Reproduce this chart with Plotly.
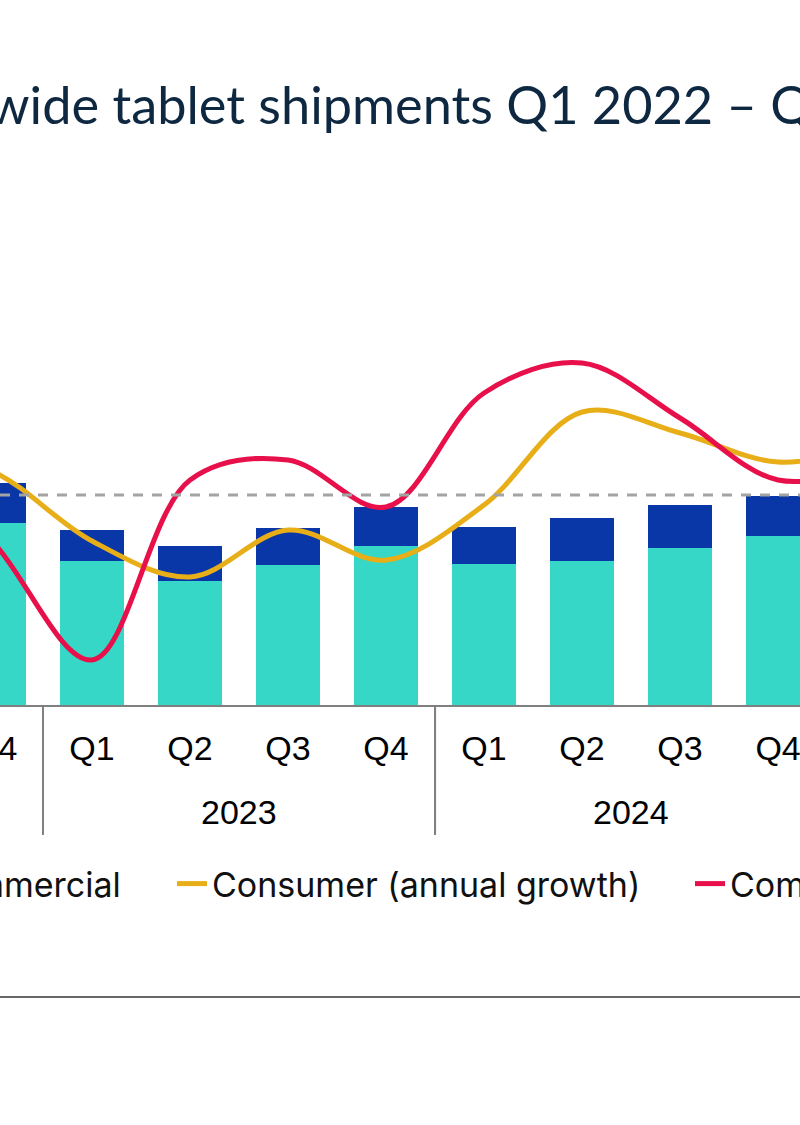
import plotly.graph_objects as go

# ---- data ----
years = ["2022"] * 4 + ["2023"] * 4 + ["2024"] * 4 + ["2025"]
quarters = ["Q1", "Q2", "Q3", "Q4"] * 3 + ["Q1"]
year_labels = ["2022", "2023", "2024", "2025"]

consumer = [26.4, 24.8, 25.1, 30.3, 24.0, 20.7, 23.3, 26.5, 23.5, 24.0, 26.2, 28.2, 25.9]
commercial = [7.8, 5.7, 5.8, 6.7, 5.2, 5.8, 6.2, 6.5, 6.2, 7.2, 7.1, 6.6, 6.6]
consumer_growth = [-6.0, -3.0, 10.0, 4.6, -9.2, -16.4, -7.0, -13.0, -2.0, 16.6, 12.4, 6.6, 10.0]
commercial_growth = [12.0, 8.0, 10.0, -9.6, -33.0, 3.0, 7.0, -2.4, 20.4, 26.4, 15.4, 3.0, 6.0]

title_text = "Worldwide tablet shipments Q1 2022 – Q1 2025"

# ---- styles ----
TEAL = "#37D7C8"
BLUE = "#0A37A8"
GOLD = "#E8AE18"
RED = "#E8104A"
TICK_FONT = "Liberation Sans, Arial, sans-serif"
LEG_FONT = "Inter, Lato, sans-serif"
X_RANGE = [3.061, 11.224]

# category keys built from the year / quarter arrays
cats = [f"{q} {y}" for y, q in zip(years, quarters)]

fig = go.Figure()
fig.add_trace(go.Bar(x=cats, y=consumer, name="Consumer", marker_color=TEAL,
                     marker_line_width=0, legend="legend"))
fig.add_trace(go.Bar(x=cats, y=commercial, name="Commercial", marker_color=BLUE,
                     marker_line_width=0, legend="legend"))
fig.add_trace(go.Scatter(x=cats, y=consumer_growth, name="Consumer (annual growth)",
                         mode="lines", line=dict(color=GOLD, width=5, shape="spline"),
                         yaxis="y2", legend="legend2"))
fig.add_trace(go.Scatter(x=cats, y=commercial_growth, name="Commercial (annual growth)",
                         mode="lines", line=dict(color=RED, width=5, shape="spline"),
                         yaxis="y2", legend="legend3"))

legend_common = dict(orientation="h", yanchor="middle", y=-0.3225, traceorder="normal",
                     font=dict(family=LEG_FONT, size=34, color="#111111"),
                     bgcolor="rgba(0,0,0,0)", borderwidth=0)

fig.update_layout(
    width=800, height=1125,
    margin=dict(l=0, r=0, t=150, b=420, autoexpand=False),
    paper_bgcolor="white", plot_bgcolor="white",
    barmode="stack", bargap=0.347,
    xaxis=dict(type="category", range=X_RANGE,
               tickvals=cats, ticktext=quarters,
               ticks="outside", ticklen=12, tickcolor="rgba(0,0,0,0)",
               showline=True, linecolor="#808080", linewidth=1.5,
               tickfont=dict(family=TICK_FONT, size=34, color="#000000"),
               showgrid=False, zeroline=False),
    yaxis=dict(range=[0, 92.5], showgrid=False, zeroline=False,
               showticklabels=False, showline=False),
    yaxis2=dict(range=[-42, 69], overlaying="y", side="right", showgrid=False,
                zeroline=False, showticklabels=False, showline=False),
    legend=dict(legend_common, xanchor="right", x=0.1575),
    legend2=dict(legend_common, xanchor="left", x=0.215),
    legend3=dict(legend_common, xanchor="left", x=0.8625),
    showlegend=True,
)

# quarter labels whose category centre lies just outside the visible range
# (Plotly drops those ticks, but the reference shows them partly cut off)
for k, q in enumerate(quarters):
    if k < X_RANGE[0] and k > X_RANGE[0] - 0.5:
        fig.add_annotation(text=q, xref="x domain", yref="paper",
                           x=(k - X_RANGE[0]) / (X_RANGE[1] - X_RANGE[0]), y=-0.0775,
                           xanchor="center", yanchor="middle", showarrow=False,
                           font=dict(family=TICK_FONT, size=34, color="#000000"))

# year group labels and dividers on the category axis
for yl in year_labels:
    idx = [k for k, y in enumerate(years) if y == yl]
    mid = (idx[0] + idx[-1]) / 2
    fig.add_annotation(text=yl, xref="x", yref="paper", x=mid, y=-0.1928,
                       xanchor="center", yanchor="middle", showarrow=False,
                       font=dict(family=TICK_FONT, size=34, color="#000000"))
    fig.add_shape(type="line", xref="x", yref="paper", x0=idx[0] - 0.5, x1=idx[0] - 0.5,
                  y0=0, y1=-0.234, line=dict(color="#808080", width=2))
    fig.add_shape(type="line", xref="x", yref="paper", x0=idx[-1] + 0.5, x1=idx[-1] + 0.5,
                  y0=0, y1=-0.234, line=dict(color="#808080", width=2))

fig.add_shape(type="line", xref="paper", x0=0, x1=1, yref="y2", y0=0, y1=0,
              line=dict(color="#A3A3A3", width=2.8, dash="10px,9px"), layer="above")
fig.add_shape(type="line", xref="paper", x0=0, x1=1, yref="paper", y0=-0.526, y1=-0.526,
              line=dict(color="#666666", width=2))

fig.add_annotation(text=title_text, xref="paper", yref="paper", x=-0.194, y=1.0834,
                   xanchor="left", yanchor="middle", showarrow=False,
                   font=dict(family="Lato, sans-serif", size=52.3, color="#0E2841"))

fig.write_html("out.html")
